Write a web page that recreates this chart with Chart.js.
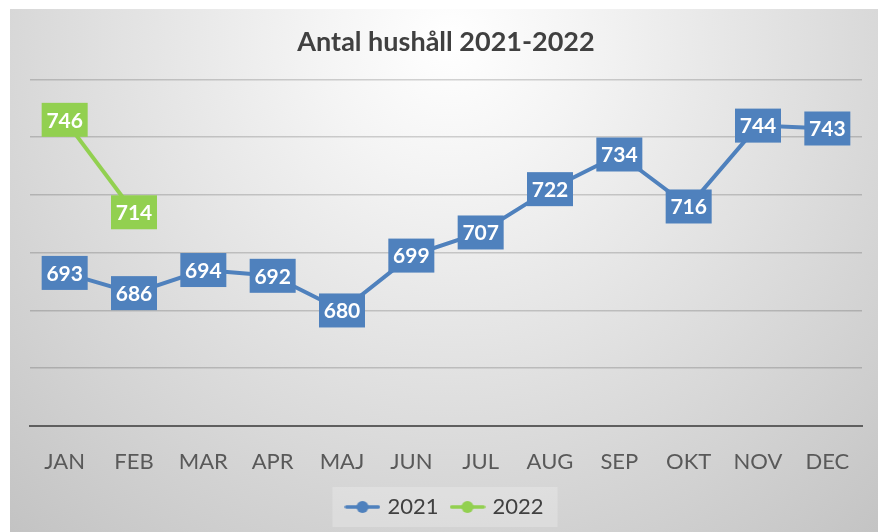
<!DOCTYPE html>
<html>
<head>
<meta charset="utf-8">
<script src="https://cdn.jsdelivr.net/npm/chart.js@4.4.0/dist/chart.umd.min.js"></script>
<style>
  html, body { margin: 0; padding: 0; background: #ffffff; }
  #wrap { width: 878px; height: 532px; }
</style>
</head>
<body>
<div id="wrap"><canvas id="myChart" width="878" height="532"></canvas></div>
<script>
// Chart data
const months = ['JAN', 'FEB', 'MAR', 'APR', 'MAJ', 'JUN', 'JUL', 'AUG', 'SEP', 'OKT', 'NOV', 'DEC'];
const values2021 = [693, 686, 694, 692, 680, 699, 707, 722, 734, 716, 744, 743];
const values2022 = [746, 714];

const blue = '#4f81bd';
const green = '#92d050';
const fontFamily = 'Lato, "Open Sans", sans-serif';

// Legend marker: short line with a dot in the middle
function legendMarker(color) {
    const c = document.createElement('canvas');
    c.width = 36;
    c.height = 14;
    const ctx = c.getContext('2d');
    ctx.strokeStyle = color;
    ctx.lineWidth = 3.5;
    ctx.lineCap = 'round';
    ctx.beginPath();
    ctx.moveTo(2, 7);
    ctx.lineTo(34, 7);
    ctx.stroke();
    ctx.fillStyle = color;
    ctx.beginPath();
    ctx.arc(18, 7, 6, 0, Math.PI * 2);
    ctx.fill();
    return c;
}

// Gradient background + legend panel
const backgroundPlugin = {
    id: 'bgGradient',
    beforeDraw(chart) {
        const ctx = chart.ctx;
        ctx.save();
        ctx.fillStyle = '#ffffff';
        ctx.fillRect(0, 0, chart.width, chart.height);
        const g = ctx.createRadialGradient(450, 40, 0, 450, 40, 660);
        g.addColorStop(0, '#ffffff');
        g.addColorStop(0.2, '#f4f4f4');
        g.addColorStop(1, '#c3c3c3');
        ctx.fillStyle = g;
        ctx.fillRect(10, 9, chart.width - 10, chart.height - 9);

        const boxes = chart.legend.legendHitBoxes;
        if (boxes && boxes.length) {
            const first = boxes[0];
            const last = boxes[boxes.length - 1];
            ctx.fillStyle = 'rgba(255,255,255,0.22)';
            ctx.fillRect(first.left - 16, first.top - 9, last.left + last.width - first.left + 30, first.height + 18);
        }
        ctx.restore();
    }
};

// Value labels drawn as filled boxes centred on each point
const valueBoxPlugin = {
    id: 'valueBoxes',
    afterDatasetsDraw(chart) {
        const ctx = chart.ctx;
        ctx.save();
        chart.data.datasets.forEach((ds, i) => {
            const meta = chart.getDatasetMeta(i);
            meta.data.forEach((pt, j) => {
                const w = 46, h = 34;
                ctx.fillStyle = ds.borderColor;
                ctx.fillRect(pt.x - w / 2, pt.y - h / 2, w, h);
                ctx.fillStyle = '#ffffff';
                ctx.font = 'bold 21px ' + fontFamily;
                ctx.textAlign = 'center';
                ctx.textBaseline = 'middle';
                ctx.fillText(String(ds.data[j]), pt.x, pt.y + 1);
            });
        });
        ctx.restore();
    }
};

const config = {
    type: 'line',
    data: {
        labels: months,
        datasets: [
            {
                label: '2021',
                data: values2021,
                borderColor: blue,
                backgroundColor: blue,
                borderWidth: 4,
                pointRadius: 0,
                pointStyle: legendMarker(blue),
                tension: 0
            },
            {
                label: '2022',
                data: values2022,
                borderColor: green,
                backgroundColor: green,
                borderWidth: 4,
                pointRadius: 0,
                pointStyle: legendMarker(green),
                tension: 0
            }
        ]
    },
    options: {
        responsive: false,
        animation: false,
        layout: {
            padding: { left: 30, right: 16, top: 20, bottom: 4 }
        },
        scales: {
            x: {
                offset: true,
                grid: { display: false, drawTicks: false },
                border: { display: true, color: '#5f5f5f', width: 2 },
                ticks: {
                    padding: 23,
                    color: '#595959',
                    font: { size: 22, family: fontFamily }
                },
                afterFit(scale) {
                    scale.height = 55;
                }
            },
            y: {
                min: 640,
                max: 760,
                ticks: { stepSize: 20, display: false },
                grid: { color: 'rgba(0,0,0,0.17)', lineWidth: 1.5, drawTicks: false },
                border: { display: false }
            }
        },
        plugins: {
            title: {
                display: true,
                text: 'Antal hushåll 2021-2022',
                color: '#404040',
                font: { size: 27, weight: 'bold', family: fontFamily },
                padding: { top: 6, bottom: 21 }
            },
            legend: {
                position: 'bottom',
                labels: {
                    usePointStyle: true,
                    pointStyleWidth: 28,
                    padding: 15,
                    color: '#404040',
                    font: { size: 22, family: fontFamily }
                }
            },
            tooltip: { enabled: false }
        }
    },
    plugins: [backgroundPlugin, valueBoxPlugin]
};

window.myChart = new Chart(document.getElementById('myChart'), config);
</script>
</body>
</html>
